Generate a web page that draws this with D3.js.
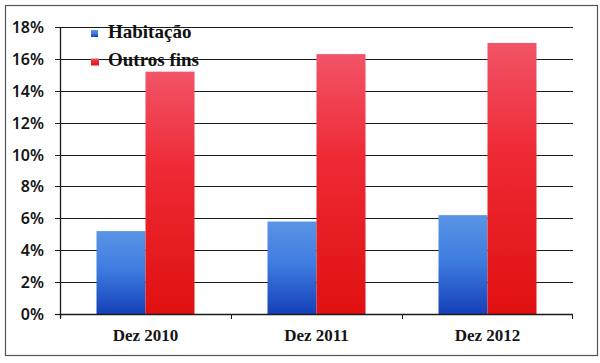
<!DOCTYPE html>
<html>
<head>
<meta charset="utf-8">
<script src="https://cdn.jsdelivr.net/npm/d3@7"></script>
<style>
  body { margin: 0; background: #fff; }
  .ylab { font-family: 'Noto Sans', sans-serif; font-size: 16px; font-weight: 600; fill: #151515; }
  .xlab { font-family: 'Liberation Serif', serif; font-size: 17px; font-weight: bold; fill: #151515; }
  .leg { font-family: 'Liberation Serif', serif; font-size: 19px; font-weight: bold; fill: #111; }
</style>
</head>
<body>
<div id="chart"></div>
<script>
const categories = ['Dez 2010', 'Dez 2011', 'Dez 2012'];
const seriesNames = ['Habitação', 'Outros fins'];
const habitacao = [5.2, 5.8, 6.2];
const outrosFins = [15.2, 16.3, 17.0];
const yTicks = [0, 2, 4, 6, 8, 10, 12, 14, 16, 18];

const W = 600, H = 363;
const margin = { top: 27, right: 27, bottom: 49, left: 60 };
const width = W - margin.left - margin.right,
  height = H - margin.top - margin.bottom;

const svg = d3.select('#chart').append('svg')
  .attr('width', W)
  .attr('height', H);

const defs = svg.append('defs');
const blue = defs.append('linearGradient').attr('id', 'gBlue')
  .attr('x1', 0).attr('y1', 0).attr('x2', 0).attr('y2', 1);
blue.append('stop').attr('offset', '0%').attr('stop-color', '#5a94e6');
blue.append('stop').attr('offset', '45%').attr('stop-color', '#3f7de0');
blue.append('stop').attr('offset', '100%').attr('stop-color', '#1540b8');
const red = defs.append('linearGradient').attr('id', 'gRed')
  .attr('x1', 0).attr('y1', 0).attr('x2', 0).attr('y2', 1);
red.append('stop').attr('offset', '0%').attr('stop-color', '#f25468');
red.append('stop').attr('offset', '40%').attr('stop-color', '#ee2a35');
red.append('stop').attr('offset', '100%').attr('stop-color', '#e01010');

// outer frame
svg.append('rect')
  .attr('x', 5.5).attr('y', 5.5)
  .attr('width', 592).attr('height', 350)
  .attr('fill', 'none').attr('stroke', '#555').attr('stroke-width', 1.2);

const g = svg.append('g')
  .attr('transform', `translate(${margin.left}, ${margin.top})`);

const x = d3.scaleBand().domain(categories).range([0, width]);
const x1 = d3.scaleBand().domain(seriesNames)
  .range([0, 98]);
const y = d3.scaleLinear().domain([0, 18]).range([height, 0]);

// grid lines + left ticks
g.append('g')
  .selectAll('line')
  .data(yTicks)
  .enter().append('line')
  .attr('x1', -5).attr('x2', d => d === 0 ? 0 : width)
  .attr('y1', d => Math.round(y(d)) + 0.5)
  .attr('y2', d => Math.round(y(d)) + 0.5)
  .attr('stroke', '#1a1a1a').attr('stroke-width', 1.2);

// y labels
g.append('g')
  .selectAll('text')
  .data(yTicks)
  .enter().append('text')
  .attr('class', 'ylab')
  .attr('x', -16)
  .attr('y', d => y(d) + 6)
  .attr('text-anchor', 'end')
  .text(d => d + '%');

// bars
const data = categories.map((c, i) => ({ cat: c, vals: [habitacao[i], outrosFins[i]] }));
const groups = g.selectAll('.grp')
  .data(data)
  .enter().append('g')
  .attr('class', 'grp')
  .attr('transform', d => `translate(${x(d.cat) + x.bandwidth() / 2 - 49}, 0)`);

groups.selectAll('rect')
  .data(d => d.vals.map((v, j) => ({ s: seriesNames[j], v: v })))
  .enter().append('rect')
  .attr('x', d => x1(d.s))
  .attr('width', x1.bandwidth())
  .attr('y', d => y(d.v))
  .attr('height', d => height - y(d.v))
  .attr('fill', d => d.s === seriesNames[0] ? 'url(#gBlue)' : 'url(#gRed)');

// y axis line
g.append('line')
  .attr('x1', 0.5).attr('x2', 0.5)
  .attr('y1', 0).attr('y2', height + 4)
  .attr('stroke', '#1a1a1a').attr('stroke-width', 1.3);

// x axis
const xAxis = g.append('g')
  .attr('transform', `translate(0, ${height})`);
xAxis.append('line')
  .attr('x1', 0).attr('x2', width)
  .attr('y1', 0.5).attr('y2', 0.5)
  .attr('stroke', '#1a1a1a').attr('stroke-width', 1.5);
xAxis.selectAll('.tk')
  .data(categories.concat(['end']))
  .enter().append('line')
  .attr('x1', (d, i) => i < categories.length ? x(d) + 0.5 : width - 0.5)
  .attr('x2', (d, i) => i < categories.length ? x(d) + 0.5 : width - 0.5)
  .attr('y1', 0).attr('y2', 5)
  .attr('stroke', '#1a1a1a');
xAxis.selectAll('.xlab')
  .data(categories)
  .enter().append('text')
  .attr('class', 'xlab')
  .attr('x', d => x(d) + x.bandwidth() / 2)
  .attr('y', 27)
  .attr('text-anchor', 'middle')
  .text(d => d);

// legend
const leg = svg.append('g').attr('transform', 'translate(91, 30)');
const legItems = leg.selectAll('g')
  .data(seriesNames)
  .enter().append('g')
  .attr('transform', (d, i) => `translate(0, ${i * 28.5})`);
legItems.append('rect')
  .attr('x', 0)
  .attr('y', 0)
  .attr('width', (d, i) => i === 0 ? 7 : 8)
  .attr('height', 7)
  .attr('fill', (d, i) => i === 0 ? 'url(#gBlue)' : 'url(#gRed)');
legItems.append('text')
  .attr('class', 'leg')
  .attr('x', 17)
  .attr('y', 7.5)
  .text(d => d);
</script>
</body>
</html>
